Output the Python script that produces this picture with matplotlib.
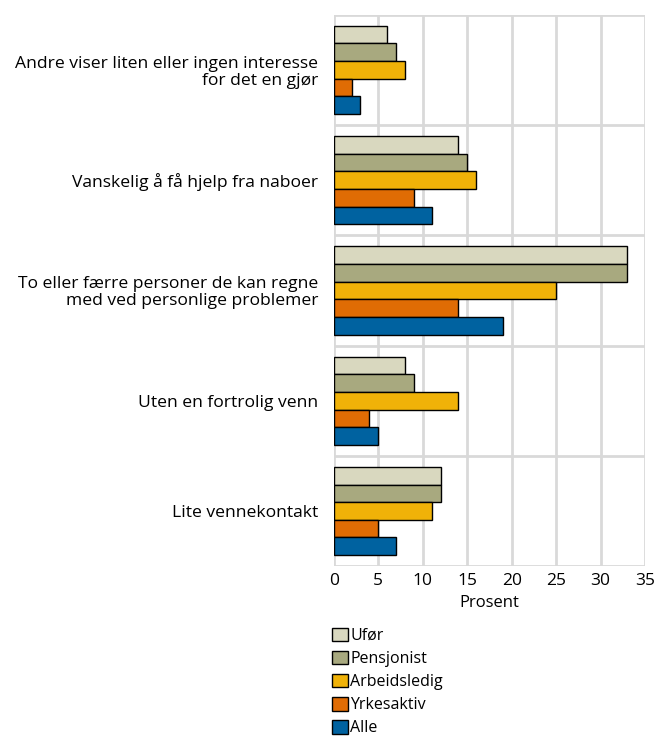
import numpy as np
import matplotlib
matplotlib.use("Agg")
import matplotlib.pyplot as plt
import matplotlib.patches as patches

plt.rcParams['font.family'] = ['Open Sans', 'DejaVu Sans']

# data
CATEGORIES = [
    "Andre viser liten eller ingen interesse\nfor det en gjør",
    "Vanskelig å få hjelp fra naboer",
    "To eller færre personer de kan regne\nmed ved personlige problemer",
    "Uten en fortrolig venn",
    "Lite vennekontakt",
]
SERIES = ["Ufør", "Pensjonist", "Arbeidsledig", "Yrkesaktiv", "Alle"]
UFOR = [6, 14, 33, 8, 12]
PENSJONIST = [7, 15, 33, 9, 12]
ARBEIDSLEDIG = [8, 16, 25, 14, 11]
YRKESAKTIV = [2, 9, 14, 4, 5]
ALLE = [3, 11, 19, 5, 7]
X_TICKS = [0, 5, 10, 15, 20, 25, 30, 35]

COLORS = ['#d9d8bf', '#a8a97f', '#f0b208', '#e06c04', '#0062a0']
GRID = '#d9d9d9'


def main():
    fig = plt.figure(figsize=(6.57, 7.4), dpi=100)
    ax = fig.add_axes([0.508, 0.235, 0.474, 0.745])

    values = [UFOR, PENSJONIST, ARBEIDSLEDIG, YRKESAKTIV, ALLE]
    n = len(CATEGORIES)
    y = np.arange(n)
    h = 0.16
    for i, (vals, col) in enumerate(zip(values, COLORS)):
        ax.barh(y - 2 * h + i * h, vals, height=h, color=col,
                edgecolor='black', linewidth=1.0, zorder=3, label=SERIES[i])

    ax.set_ylim(n - 0.5, -0.5)
    ax.set_xlim(0, 35)
    ax.set_xticks(X_TICKS)
    ax.set_yticks(y)
    ax.set_yticklabels(CATEGORIES, fontsize=12.6, linespacing=1.05)
    ax.tick_params(axis='y', length=0, pad=11)
    ax.tick_params(axis='x', length=0, labelsize=12.5, pad=5)

    # gridlines
    for x in X_TICKS:
        ax.axvline(x, color=GRID, linewidth=2, zorder=1)
    for b in np.arange(-0.5, n, 1.0):
        ax.axhline(b, color=GRID, linewidth=2, zorder=1)
    for s in ax.spines.values():
        s.set_visible(False)

    ax.set_xlabel("Prosent", fontsize=12, labelpad=4)

    handles = [patches.Patch(facecolor=c, edgecolor='black', linewidth=1.0) for c in COLORS]
    fig.legend(handles, SERIES, loc='upper left', bbox_to_anchor=(0.506, 0.152),
               frameon=False, fontsize=11.5, handlelength=0.95, handleheight=0.95,
               handletextpad=0.15, labelspacing=0.42, borderaxespad=0,
               borderpad=0)

    fig.savefig("out.png", dpi=100)


if __name__ == '__main__':
    main()
